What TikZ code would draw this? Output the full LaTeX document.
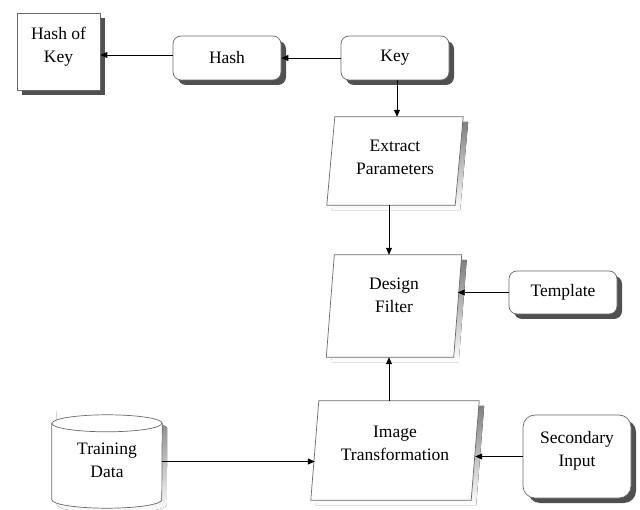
\documentclass[tikz,border=0pt]{standalone}
\usepackage{fontspec}
\setmainfont{Liberation Serif}
\usetikzlibrary{arrows.meta,shadows,backgrounds}
\definecolor{edge}{HTML}{6A6A6A}
\definecolor{shade}{HTML}{505050}
\begin{document}
\begin{tikzpicture}[x=1pt,y=-1pt,
  lbl/.style={font=\fontsize{17.5}{23}\selectfont, align=center, inner sep=0pt},
  rbox/.style={lbl, draw=edge, line width=0.7pt, fill=white, rounded corners=8pt,
    drop shadow={shadow xshift=5pt, shadow yshift=-5pt, fill=shade, opacity=1}},
  anchorbox/.style={draw=none, inner sep=0pt},
  outline/.style={draw=edge, line width=0.7pt, fill=white},
  arr/.style={draw=black, line width=0.8pt, -{Triangle[length=7pt,width=6pt]}},
]
\useasboundingbox (0,0) rectangle (640,510);

% rounded and plain boxes
\node[rbox, rounded corners=0pt, minimum width=83pt, minimum height=77pt] (hashkey) at (58.5,51.5) {};
\node[lbl] (hashkey-t) at (58.5,46.5) {Hash of\\Key};
\node[rbox, minimum width=108pt, minimum height=44pt] (hash) at (227,58) {Hash};
\node[rbox, minimum width=108pt, minimum height=44pt] (key) at (395,58) {Key};
\node[rbox, minimum width=108pt, minimum height=43pt] (template) at (563,292.5) {Template};
\node[rbox, rounded corners=12pt, minimum width=108pt, minimum height=83pt] (secondary) at (577,456.5) {};
\node[lbl] (secondary-t) at (577,450.5) {Secondary\\Input};

% frames for the slanted process boxes and the data store
\node[anchorbox, minimum width=128pt, minimum height=88pt] (extract) at (395,161) {};
\node[lbl] (extract-t) at (395,157) {Extract\\Parameters};
\node[anchorbox, minimum width=127pt, minimum height=102pt] (design) at (394,306) {};
\node[lbl] (design-t) at (394,295) {Design\\Filter};
\node[anchorbox, minimum width=160pt, minimum height=99pt] (image) at (395,450.5) {};
\node[lbl] (image-t) at (395,443) {Image\\Transformation};
\node[anchorbox, minimum width=110pt, minimum height=93pt] (train) at (107,461.5) {};
\node[lbl] (train-t) at (107,460.5) {Training\\Data};

\begin{scope}[on background layer]
  % parallelograms with their shadows
  \foreach \n in {extract,design,image}{
    \fill[shade] ([shift={(1,5)}]\n.south west) -- ([shift={(9,5)}]\n.north west)
      -- ([shift={(9,5)}]\n.north east) -- ([shift={(1,5)}]\n.south east) -- cycle;
    \path[outline] ([xshift=-4pt]\n.south west) -- ([xshift=4pt]\n.north west)
      -- ([xshift=4pt]\n.north east) -- ([xshift=-4pt]\n.south east) -- cycle;
  }
  % cylinder
  \fill[shade] ([shift={(5,-3.5)}]train.north west) -- ([shift={(5,-3.5)}]train.south west)
    arc[start angle=180, end angle=360, x radius=55pt, y radius=8.5pt]
    -- ([shift={(5,13.5)}]train.north east)
    arc[start angle=0, end angle=180, x radius=55pt, y radius=8.5pt] -- cycle;
  \path[outline] ([yshift=-8.5pt]train.north west) -- ([yshift=8.5pt]train.south west)
    arc[start angle=180, end angle=360, x radius=55pt, y radius=8.5pt]
    -- ([yshift=-8.5pt]train.north east)
    arc[start angle=0, end angle=180, x radius=55pt, y radius=8.5pt] -- cycle;
  \draw[edge, line width=0.7pt] ([yshift=-8.5pt]train.north west)
    arc[start angle=180, end angle=360, x radius=55pt, y radius=8.5pt];
\end{scope}

% connectors
\draw[arr] (key.west) -- (hash.east);
\draw[arr] ([yshift=3pt]hash.west) -- ([yshift=3pt]hash.west -| hashkey.east);
\draw[arr] ([xshift=2pt]key.south) -- ([xshift=2pt]key.south |- extract.north);
\draw[arr] ([xshift=-6pt]extract.south) -- ([xshift=-6pt]extract.south |- design.north);
\draw[arr] (template.west) -- (template.west -| design.east);
\draw[arr] ([xshift=-6pt]image.north) -- ([xshift=-6pt]image.north |- design.south);
\draw[arr] (train.east) -- (train.east -| image.west);
\draw[arr] (secondary.west) -- (secondary.west -| image.east);
\end{tikzpicture}
\end{document}
